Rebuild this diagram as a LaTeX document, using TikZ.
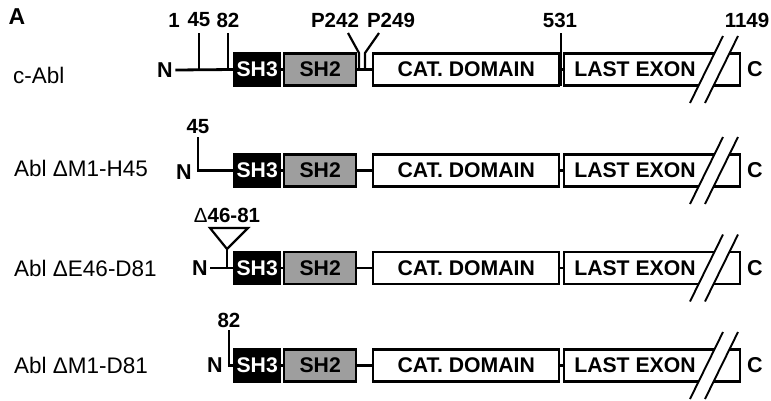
\documentclass[tikz,border=0pt]{standalone}
\usepackage{fontspec}
\setmainfont{Liberation Sans}
\usetikzlibrary{calc}
\begin{document}
\begin{tikzpicture}[x=1pt,y=-1pt,
  box/.style={draw=black, line width=2.4pt, minimum height=32pt, inner sep=0pt, anchor=west, font=\fontsize{21.2}{22}\selectfont\bfseries},
  sh3box/.style={box, fill=black, text=white, minimum width=46pt},
  sh2box/.style={box, fill=black!38, minimum width=72pt},
  catbox/.style={box, fill=white, minimum width=186pt},
  lastbox/.style={box, fill=white, minimum width=176pt},
  boxtxt/.style={font=\fontsize{21.2}{22}\selectfont\bfseries, inner sep=0pt},
  conn/.style={line width=2.8pt},
  tick/.style={line width=2.2pt},
  term/.style={font=\fontsize{21.5}{22}\selectfont\bfseries, inner sep=2.5pt},
  num/.style={font=\fontsize{20.5}{21}\selectfont\bfseries, inner sep=0pt},
  rowlbl/.style={font=\fontsize{22.5}{23}\selectfont, inner sep=0pt, anchor=base west},
  slash/.style={line width=1.9pt},
]
\useasboundingbox (0,0) rectangle (771,400);

% common row structure
\foreach \r/\y in {a/69.5,b/170.5,c/268,d/365.5} {
  \node[sh3box] (s3\r) at (233,\y) {SH3};
  \node[sh2box] (s2\r) at (283,\y) {SH2};
  \node[catbox] (ca\r) at (372,\y) {CAT. DOMAIN};
  \node[lastbox] (la\r) at (563,\y) {};
  \node[boxtxt] (lt\r) at (635,\y) {LAST EXON};
  \node[term] (c\r) at (755,\y) {C};
  \draw[conn] (s3\r.east) -- (s2\r.west);
  \draw[conn] (s2\r.east) -- (ca\r.west);
  \draw[conn] (ca\r.east) -- (la\r.west);
  \coordinate (bA\r) at (690,\y+33.5);
  \coordinate (bB\r) at (705,\y+33.5);
  \coordinate (bC\r) at (738,\y-33.5);
  \coordinate (bD\r) at (723,\y-33.5);
  \fill[white] (bA\r) -- (bB\r) -- (bC\r) -- (bD\r) -- cycle;
  \draw[slash] (bA\r) -- (bD\r);
  \draw[slash] (bB\r) -- (bC\r);
}

% panel letter
\node[term, font=\fontsize{23}{24}\selectfont\bfseries] (A) at (17,17) {A};

% row labels
\node[rowlbl] (ra) at (13,83) {c-Abl};
\node[rowlbl] (rb) at (14,176) {Abl \symbol{"0394}M1-H45};
\node[rowlbl] (rc) at (14,276) {Abl \symbol{"0394}E46-D81};
\node[rowlbl] (rd) at (14,373) {Abl \symbol{"0394}M1-D81};

% ---- row 1: c-Abl
\node[term] (na) at (165,70) {N};
\draw[conn] (na.east) -- (s3a.west);
\coordinate (p45a) at (199,69.5);
\coordinate (p45t) at (199,33);
\coordinate (p82a) at (228,69.5);
\coordinate (p82t) at (228,33);
\draw[tick] (p45a) -- (p45t);
\draw[tick] (p82a) -- (p82t);
\node[num] (l1) at (174,20) {1};
\node[num] (l45) at (199,20) {45};
\node[num] (l82) at (228,20) {82};
\coordinate (pA0) at (359,69.5);
\coordinate (pA1) at (359,53);
\coordinate (pA2) at (348,33);
\coordinate (pB0) at (365,69.5);
\coordinate (pB1) at (365,53);
\coordinate (pB2) at (379,33);
\draw[tick] (pA0) -- (pA1) -- (pA2);
\draw[tick] (pB0) -- (pB1) -- (pB2);
\node[num] (l242) at (335,20) {P242};
\node[num] (l249) at (391,20) {P249};
\coordinate (p531t) at (561,33);
\coordinate (p531b) at (561,86);
\draw[tick] (p531t) -- (p531b);
\node[num] (l531) at (560,20) {531};
\node[num] (l1149) at (747,20) {1149};

% ---- row 2: M1-H45
\node[term] (nb) at (184,172) {N};
\coordinate (q45t) at (198,137);
\coordinate (q45b) at (198,170.5);
\draw[conn] (q45t) -- (q45b) -- (s3b.west);
\node[num] (m45) at (198,127) {45};

% ---- row 3: E46-D81
\node[term] (nc) at (200,268) {N};
\draw[conn] (nc.east) -- (s3c.west);
\coordinate (dBase) at (227,268);
\coordinate (dApex) at (227,249);
\coordinate (dL) at (210,228);
\coordinate (dR) at (248,228);
\draw[tick] (dBase) -- (dApex);
\draw[tick, line join=miter] (dApex) -- (dL) -- (dR) -- cycle;
\node[num] (dlbl) at (227,215.5) {{\mdseries\symbol{"0394}}46-81};

% ---- row 4: M1-D81
\node[term] (nd) at (215,365) {N};
\coordinate (q82t) at (229,330);
\coordinate (q82b) at (229,365.5);
\draw[tick] (q82t) -- (q82b) -- (s3d.west);
\node[num] (m82) at (229,320) {82};
\end{tikzpicture}
\end{document}
